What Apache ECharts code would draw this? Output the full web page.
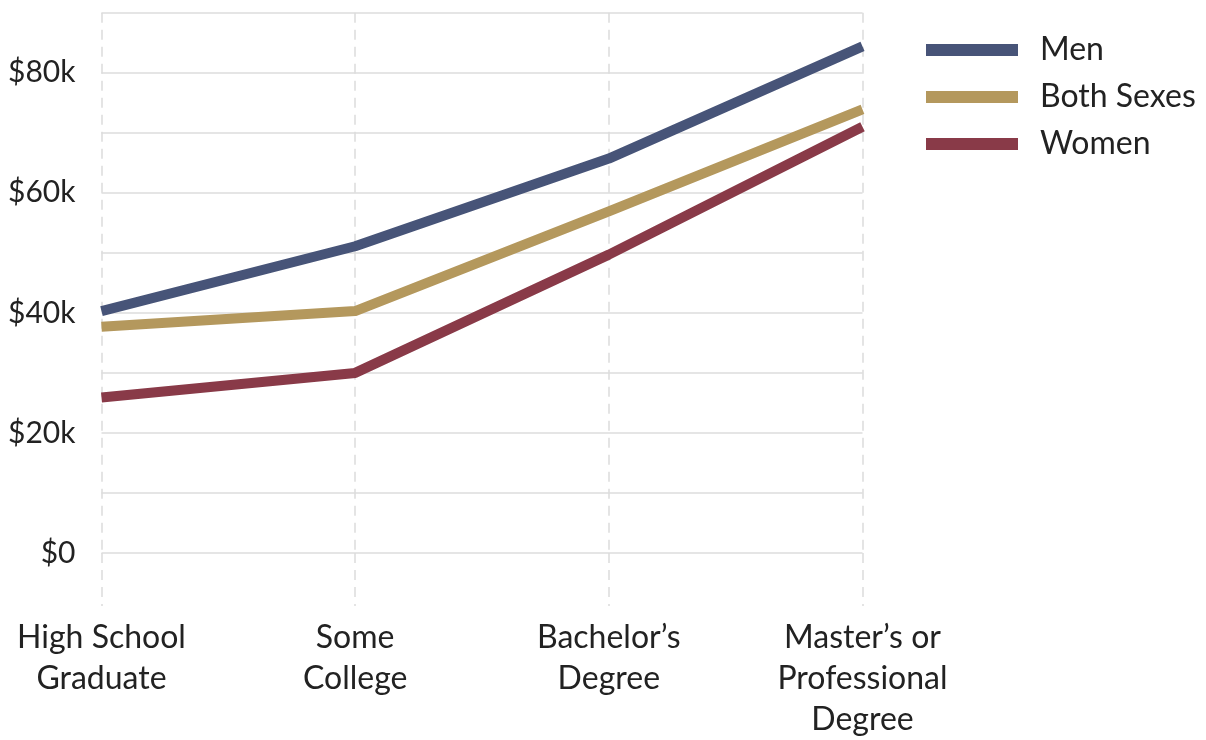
<!DOCTYPE html>
<html><head><meta charset="utf-8">
<script src="https://cdn.jsdelivr.net/npm/echarts@6/dist/echarts.min.js"></script>
<style>html,body{margin:0;padding:0;background:#fff}#c{width:1206px;height:740px}</style>
</head><body><div id="c"></div>
<script>
const categories = ["High School\nGraduate", "Some\nCollege", "Bachelor’s\nDegree", "Master’s or\nProfessional\nDegree"];
const men = [40300, 51100, 65700, 84400];
const bothSexes = [37700, 40300, 56900, 73900];
const women = [25900, 30000, 49700, 71000];
const seriesNames = ["Men", "Both Sexes", "Women"];
const colors = ["#475478", "#b4985d", "#893a48"];
const FONT = "Lato";
const chart = echarts.init(document.getElementById('c'));
const mk = (name, data, color) => ({
  name, type: 'line', data, smooth: false, showSymbol: false, symbol: 'none',
  lineStyle: { width: 10, color, cap: 'butt', join: 'round' }, itemStyle: { color }, z: 3
});
chart.setOption({
  animation: false,
  grid: { left: 101.5, right: 343.5, top: 12.7, bottom: 182.7, containLabel: false },
  legend: {
    left: 921, top: 28, orient: 'vertical', icon: 'rect', itemWidth: 92, itemHeight: 12, itemGap: 13,
    textStyle: { fontFamily: FONT, fontSize: 32, color: '#222', lineHeight: 34, padding: [0, 0, 0, 17] },
    data: seriesNames
  },
  xAxis: {
    type: 'category', data: categories, boundaryGap: false,
    axisLine: { show: false },
    axisTick: { show: true, length: 53, lineStyle: { color: '#dcdcdc', width: 1.5, type: [10, 7] } },
    splitLine: { show: true, lineStyle: { color: '#dcdcdc', width: 1.5, type: [10, 7] } },
    axisLabel: { margin: 64, fontFamily: FONT, fontSize: 32, lineHeight: 41, color: '#222', interval: 0, align: 'center' }
  },
  yAxis: {
    type: 'value', min: 0, max: 90000, interval: 10000,
    axisLine: { show: false }, axisTick: { show: false },
    splitLine: { show: true, lineStyle: { color: '#dcdcdc', width: 1.5 } },
    axisLabel: {
      margin: 26, fontFamily: FONT, fontSize: 30, color: '#222',
      formatter: v => (v % 20000 === 0 ? (v === 0 ? '$0' : '$' + (v / 1000) + 'k') : '')
    }
  },
  series: [mk(seriesNames[0], men, colors[0]), mk(seriesNames[1], bothSexes, colors[1]), mk(seriesNames[2], women, colors[2])]
});
</script></body></html>
